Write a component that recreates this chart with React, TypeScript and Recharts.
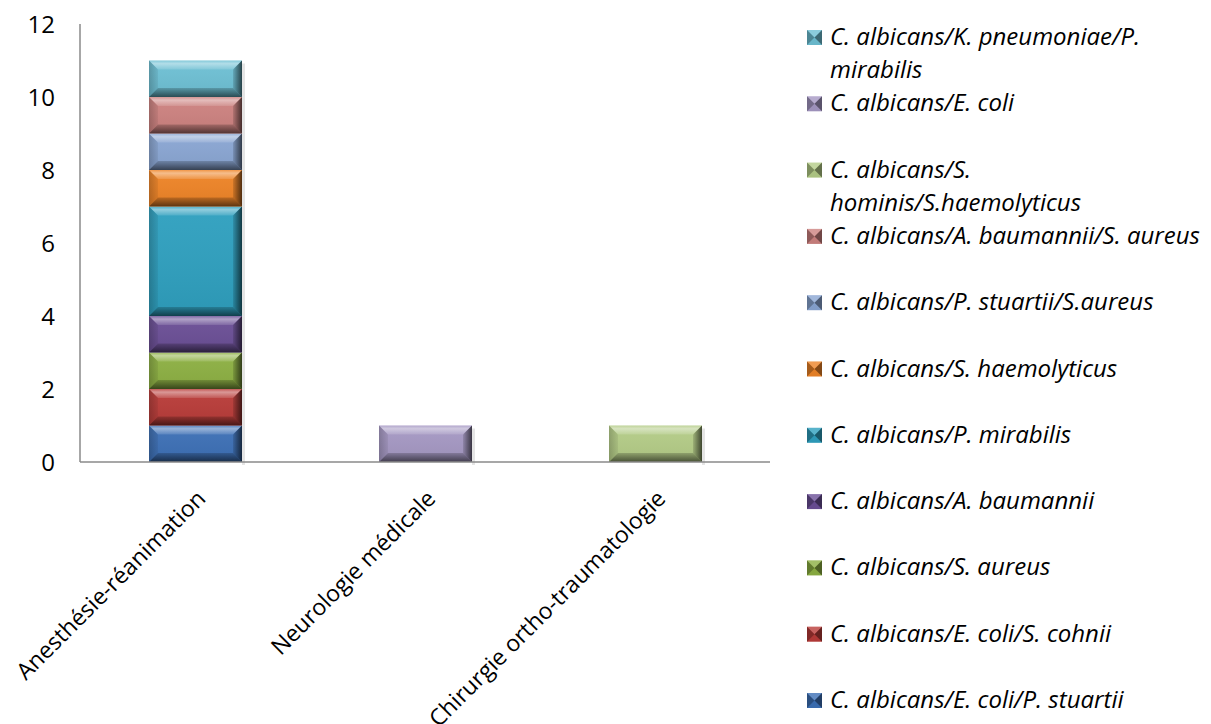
import React from 'react';
import { BarChart, Bar, XAxis, YAxis, Legend } from 'recharts';

// Hospital departments on the category axis
const categories = ['Anesthésie-réanimation', 'Neurologie médicale', 'Chirurgie ortho-traumatologie'];

// Number of cases per association, one value per department
const ecoliStuartii = [1, 0, 0];
const ecoliCohnii = [1, 0, 0];
const staphAureus = [1, 0, 0];
const acinetoBaumannii = [1, 0, 0];
const proteusMirabilis = [3, 0, 0];
const staphHaemolyticus = [1, 0, 0];
const stuartiiAureus = [1, 0, 0];
const baumanniiAureus = [1, 0, 0];
const hominisHaemolyticus = [0, 0, 1];
const ecoliOnly = [0, 1, 0];
const pneumoniaeMirabilis = [1, 0, 0];

const seriesNames = [
  'C. albicans/E. coli/P. stuartii',
  'C. albicans/E. coli/S. cohnii',
  'C. albicans/S. aureus',
  'C. albicans/A. baumannii',
  'C. albicans/P. mirabilis',
  'C. albicans/S. haemolyticus',
  'C. albicans/P. stuartii/S.aureus',
  'C. albicans/A. baumannii/S. aureus',
  'C. albicans/S. hominis/S.haemolyticus',
  'C. albicans/E. coli',
  'C. albicans/K. pneumoniae/P. mirabilis',
];

const seriesValues = [
  ecoliStuartii,
  ecoliCohnii,
  staphAureus,
  acinetoBaumannii,
  proteusMirabilis,
  staphHaemolyticus,
  stuartiiAureus,
  baumanniiAureus,
  hominisHaemolyticus,
  ecoliOnly,
  pneumoniaeMirabilis,
];

const seriesColors = [
  '#3D70B6',
  '#B93C39',
  '#8DB043',
  '#6B4F96',
  '#2FA0BF',
  '#EE8427',
  '#8AA6D3',
  '#CD8280',
  '#B4CC87',
  '#A598C3',
  '#6EC0D4',
];

const yTicks = [0, 2, 4, 6, 8, 10, 12];

const data = categories.map((category, i) => {
  const row: Record<string, string | number> = { category };
  seriesValues.forEach((vals, s) => {
    row[`s${s}`] = vals[i];
  });
  return row;
});

const FONT = '"Open Sans", Lato, sans-serif';
const FONT_SIZE = 24;
const CATEGORY_FONT_SIZE = 23;
const LEGEND_WRAP = 384;

let measureCtx: CanvasRenderingContext2D | null = null;
function textWidth(text: string): number {
  if (!measureCtx) {
    const c = document.createElement('canvas');
    measureCtx = c.getContext('2d');
  }
  if (!measureCtx) return text.length * FONT_SIZE * 0.5;
  measureCtx.font = `italic ${FONT_SIZE}px "Open Sans"`;
  return measureCtx.measureText(text).width;
}

function wrapText(text: string, maxWidth: number): string[] {
  const words = text.split(' ');
  const lines: string[] = [];
  let cur = '';
  words.forEach((w) => {
    const next = cur ? `${cur} ${w}` : w;
    if (cur && textWidth(next) > maxWidth) {
      lines.push(cur);
      cur = w;
    } else {
      cur = next;
    }
  });
  if (cur) lines.push(cur);
  return lines;
}

// Bevelled bar segment: flat face with lit top edge and shaded sides
const BevelBar = (props: any) => {
  const { x, y, width: w, height: h, fill } = props;
  if (!h || h <= 0.5 || !w) return null;
  const b = Math.min(9, h / 2.6, w / 4);
  const x2 = x + w;
  const y2 = y + h;
  return (
    <g>
      <rect x={x2} y={y + 3} width={3} height={h} fill="#000" opacity={0.1} />
      <rect x={x} y={y} width={w} height={h} fill={fill} />
      <rect x={x} y={y} width={w} height={h} fill="url(#bevFace)" />
      <polygon points={`${x},${y} ${x2},${y} ${x2 - b},${y + b} ${x + b},${y + b}`} fill="url(#bevTop)" />
      <polygon points={`${x},${y2} ${x2},${y2} ${x2 - b},${y2 - b} ${x + b},${y2 - b}`} fill="url(#bevBottom)" />
      <polygon points={`${x},${y} ${x + b},${y + b} ${x + b},${y2 - b} ${x},${y2}`} fill="url(#bevLeft)" />
      <polygon points={`${x2},${y} ${x2 - b},${y + b} ${x2 - b},${y2 - b} ${x2},${y2}`} fill="url(#bevRight)" />
    </g>
  );
};

const LegendIcon = ({ x, y, size, color }: { x: number; y: number; size: number; color: string }) => {
  const cx = x + size / 2;
  const cy = y + size / 2;
  const x2 = x + size;
  const y2 = y + size;
  return (
    <g>
      <rect x={x} y={y} width={size} height={size} fill={color} />
      <polygon points={`${x},${y} ${x2},${y} ${cx},${cy}`} fill="#fff" opacity={0.2} />
      <polygon points={`${x},${y2} ${x2},${y2} ${cx},${cy}`} fill="#000" opacity={0.05} />
      <polygon points={`${x},${y} ${cx},${cy} ${x},${y2}`} fill="#000" opacity={0.3} />
      <polygon points={`${x2},${y} ${cx},${cy} ${x2},${y2}`} fill="#000" opacity={0.45} />
    </g>
  );
};

// Legend lists the stack from its top segment down to its base
const renderLegend = (props: any) => {
  const items = [...(props.payload ?? [])].sort(
    (a: any, b: any) => seriesNames.indexOf(String(b.value)) - seriesNames.indexOf(String(a.value)),
  );
  return (
    <svg width={411} height={724} style={{ display: 'block' }}>
      {items.map((item: any, i: number) => {
        const base = 45 + i * 66.3;
        const lines = wrapText(String(item.value), LEGEND_WRAP);
        return (
          <g key={String(item.value)}>
            <LegendIcon x={7} y={base - 15} size={15} color={item.color} />
            <text x={30} y={base} fontFamily={FONT} fontSize={FONT_SIZE} fontStyle="italic" fill="#000">
              {lines.map((line, j) => (
                <tspan key={j} x={30} y={base + j * 33}>
                  {line}
                </tspan>
              ))}
            </text>
          </g>
        );
      })}
    </svg>
  );
};

const CategoryTick = (props: any) => {
  const { x, y, payload } = props;
  return (
    <g transform={`translate(${x + 12},${y + 38})`}>
      <text transform="rotate(-45)" textAnchor="end" fontFamily={FONT} fontSize={CATEGORY_FONT_SIZE} fill="#000">
        {payload.value}
      </text>
    </g>
  );
};

export default function App() {
  return (
    <div style={{ position: 'absolute', left: 0, top: 0, width: 1211, height: 724, background: '#fff' }}>
      <BarChart
        width={1211}
        height={724}
        data={data}
        margin={{ top: 24, right: 441, bottom: 232, left: 20 }}
      >
        <defs>
          <linearGradient id="bevFace" x1="0" y1="0" x2="0" y2="1">
            <stop offset="0" stopColor="#fff" stopOpacity={0.04} />
            <stop offset="1" stopColor="#000" stopOpacity={0.06} />
          </linearGradient>
          <linearGradient id="bevTop" x1="0" y1="0" x2="0" y2="1">
            <stop offset="0" stopColor="#fff" stopOpacity={0.12} />
            <stop offset="0.35" stopColor="#fff" stopOpacity={0.45} />
            <stop offset="1" stopColor="#fff" stopOpacity={0.12} />
          </linearGradient>
          <linearGradient id="bevBottom" x1="0" y1="0" x2="0" y2="1">
            <stop offset="0" stopColor="#000" stopOpacity={0.18} />
            <stop offset="1" stopColor="#000" stopOpacity={0.58} />
          </linearGradient>
          <linearGradient id="bevLeft" x1="0" y1="0" x2="1" y2="0">
            <stop offset="0" stopColor="#000" stopOpacity={0.22} />
            <stop offset="1" stopColor="#000" stopOpacity={0.06} />
          </linearGradient>
          <linearGradient id="bevRight" x1="0" y1="0" x2="1" y2="0">
            <stop offset="0" stopColor="#000" stopOpacity={0.12} />
            <stop offset="1" stopColor="#000" stopOpacity={0.65} />
          </linearGradient>
        </defs>
        <XAxis
          dataKey="category"
          height={30}
          axisLine={{ stroke: '#8a8a8a', strokeWidth: 1.5 }}
          tickLine={false}
          tickSize={0}
          tickMargin={0}
          interval={0}
          tick={<CategoryTick />}
        />
        <YAxis
          width={60}
          domain={[0, 12]}
          ticks={yTicks}
          axisLine={{ stroke: '#8a8a8a', strokeWidth: 1.5 }}
          tickLine={false}
          tickSize={0}
          tickMargin={25}
          tick={{ fill: '#000', fontSize: FONT_SIZE, fontFamily: FONT }}
        />
        <Legend
          layout="horizontal"
          verticalAlign="middle"
          align="center"
          content={renderLegend}
          wrapperStyle={{ position: 'absolute', left: 800, top: 0, width: 411, height: 724 }}
        />
        {seriesNames.map((name, s) => (
          <Bar
            key={name}
            dataKey={`s${s}`}
            name={name}
            stackId="total"
            fill={seriesColors[s]}
            barSize={93}
            shape={<BevelBar />}
            isAnimationActive={false}
          />
        ))}
      </BarChart>
    </div>
  );
}
